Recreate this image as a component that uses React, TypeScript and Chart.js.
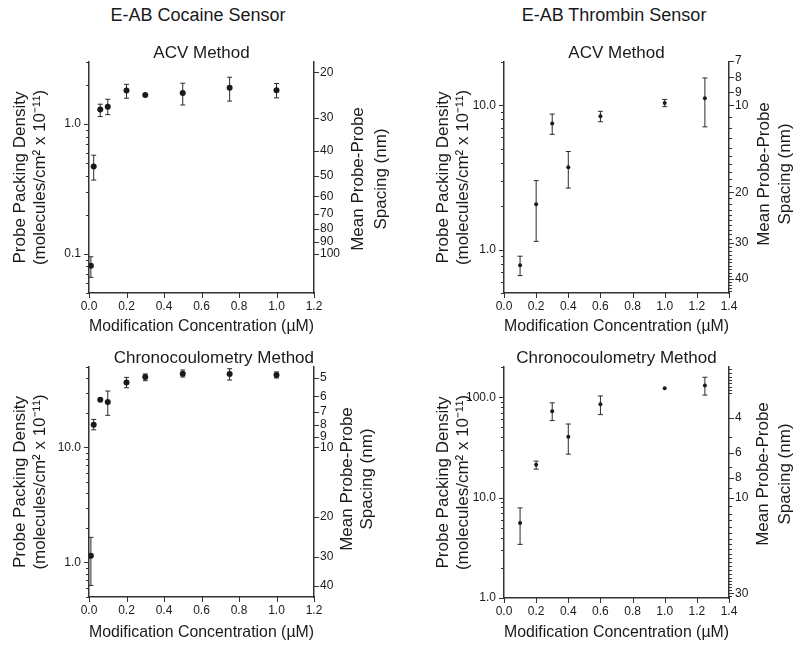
import React, { useEffect, useRef } from "react";
import { Chart, registerables } from "chart.js";
Chart.register(...registerables);

const FONT = "'Liberation Sans', Arial, Helvetica, sans-serif";
const INK = "#1a1a1a";
const AXIS = "#333333";
// mean probe-probe spacing (nm) = sqrt(1000 / density[10^11 molecules/cm²])
const SPACING_K = Math.sqrt(1000);

// ---------- E-AB cocaine sensor ----------
const cocaineConc = [0.01, 0.025, 0.06, 0.1, 0.2, 0.3, 0.5, 0.75, 1.0];
const cocaineAcvDensity = [0.081, 0.47, 1.29, 1.36, 1.81, 1.67, 1.73, 1.9, 1.82];
const cocaineAcvHigh = [0.095, 0.575, 1.42, 1.55, 2.02, null, 2.06, 2.29, 2.05];
const cocaineAcvLow = [0.066, 0.37, 1.14, 1.18, 1.58, null, 1.4, 1.5, 1.59];
const cocaineCcDensity = [1.14, 15.7, 26.0, 24.8, 36.7, 40.9, 43.7, 43.5, 42.6];
const cocaineCcHigh = [1.65, 17.5, null, 30.9, 40.6, 43.5, 47.1, 48.3, 45.3];
const cocaineCcLow = [0.63, 14.2, null, 19.0, 33.0, 38.0, 40.9, 38.5, 40.1];

// ---------- E-AB thrombin sensor ----------
const thrombinConc = [0.1, 0.2, 0.3, 0.4, 0.6, 1.0, 1.25];
const thrombinAcvDensity = [0.78, 2.06, 7.5, 3.73, 8.4, 10.4, 11.2];
const thrombinAcvHigh = [0.9, 3.01, 8.7, 4.79, 9.1, 11.0, 15.5];
const thrombinAcvLow = [0.66, 1.14, 6.3, 2.67, 7.7, 9.8, 7.1];
const thrombinCcDensity = [5.6, 21.2, 72.4, 40.5, 85.1, 123, 131];
const thrombinCcHigh = [7.9, 23.1, 87.9, 54.1, 103, null, 158];
const thrombinCcLow = [3.42, 19.2, 58.5, 27.1, 67.1, null, 105];

// ---------- tick labels ----------
const cocaineXTicks = [0, 0.2, 0.4, 0.6, 0.8, 1.0, 1.2];
const thrombinXTicks = [0, 0.2, 0.4, 0.6, 0.8, 1.0, 1.2, 1.4];
const cocaineAcvDensityTicks = [0.1, 1];
const cocaineCcDensityTicks = [1, 10];
const thrombinAcvDensityTicks = [1, 10];
const thrombinCcDensityTicks = [1, 10, 100];
const cocaineAcvSpacingTicks = [20, 30, 40, 50, 60, 70, 80, 90, 100];
const cocaineAcvSpacingMinor: number[] = [];
const cocaineCcSpacingTicks = [5, 6, 7, 8, 9, 10, 20, 30, 40];
const cocaineCcSpacingMinor: number[] = [];
const thrombinAcvSpacingTicks = [7, 8, 9, 10, 20, 30, 40];
const thrombinAcvSpacingMinor = [11, 12, 13, 14, 15, 16, 17, 18, 19, 21, 22, 23, 24, 25, 26, 27, 28, 29, 31, 32, 33, 34, 35, 36, 37, 38, 39, 41, 42, 43, 44];
const thrombinCcSpacingTicks = [4, 6, 8, 10, 30];
const thrombinCcSpacingMinor = [2.3, 2.4, 2.5, 2.6, 2.7, 2.8, 2.9, 3, 5, 7, 9, 11, 12, 13, 14, 15, 16, 17, 18, 19, 20, 21, 22, 23, 24, 25, 26, 27, 28, 29, 31];

function minorLogTicks(min: number, max: number): number[] {
  const out: number[] = [];
  for (let k = Math.floor(Math.log10(min)); k <= Math.ceil(Math.log10(max)); k++) {
    for (let m = 2; m <= 9; m++) {
      const v = Number((m * Math.pow(10, k)).toPrecision(6));
      if (v >= min * 0.999 && v <= max * 1.001) out.push(v);
    }
  }
  return out;
}

type PanelProps = {
  title: string;
  titleAlign: "center" | "end";
  x: number[];
  y: number[];
  hi: (number | null)[];
  lo: (number | null)[];
  xMax: number;
  xTicks: number[];
  yMin: number;
  yMax: number;
  densityTicks: number[];
  spacingTicks: number[];
  spacingMinor: number[];
  radius: number;
  left: number;
  top: number;
  w: number;
  h: number;
  leftW: number;
  rightW: number;
  xAxisH: number;
  leftTitlePad: number;
  rightTitleX: [number, number];
  rightTitleY: number;
};

function Panel(p: PanelProps) {
  const ref = useRef<HTMLCanvasElement>(null);
  useEffect(() => {
    const majorSet = new Set(p.densityTicks);
    const leftTicks = [...p.densityTicks, ...minorLogTicks(p.yMin, p.yMax)].sort((a, b) => a - b);
    const labeledSpacing = new Set(p.spacingTicks);
    const rightTicks = [...p.spacingTicks, ...p.spacingMinor]
      .map((s) => ({ value: (SPACING_K / s) ** 2, s, lab: labeledSpacing.has(s) }))
      .sort((a, b) => a.value - b.value);

    const decor = {
      id: "decor",
      beforeDatasetsDraw(chart: any) {
        const ctx = chart.ctx;
        const xs = chart.scales.x;
        const ys = chart.scales.y;
        ctx.save();
        ctx.strokeStyle = "#2a2a2a";
        ctx.lineWidth = 1;
        p.x.forEach((xv, i) => {
          const h = p.hi[i];
          const l = p.lo[i];
          if (h == null || l == null) return;
          const px = xs.getPixelForValue(xv);
          const y1 = ys.getPixelForValue(h);
          const y2 = ys.getPixelForValue(l);
          ctx.beginPath();
          ctx.moveTo(px, y1);
          ctx.lineTo(px, y2);
          ctx.moveTo(px - 2.5, y1);
          ctx.lineTo(px + 2.5, y1);
          ctx.moveTo(px - 2.5, y2);
          ctx.lineTo(px + 2.5, y2);
          ctx.stroke();
        });
        ctx.restore();
      },
      afterDraw(chart: any) {
        const ctx = chart.ctx;
        const area = chart.chartArea;
        const xs = chart.scales.x;
        const ys = chart.scales.y;
        const ys2 = chart.scales.y2;
        ctx.save();
        ctx.strokeStyle = AXIS;
        ctx.lineWidth = 1;
        ctx.beginPath();
        xs.ticks.forEach((t: any) => {
          const px = Math.round(xs.getPixelForValue(t.value)) + 0.5;
          ctx.moveTo(px, area.bottom);
          ctx.lineTo(px, area.bottom + 5);
        });
        ys.ticks.forEach((t: any) => {
          const py = Math.round(ys.getPixelForValue(t.value)) + 0.5;
          if (py < area.top - 3 || py > area.bottom + 1) return;
          const len = t.label ? 5 : 3;
          ctx.moveTo(area.left, py);
          ctx.lineTo(area.left - len, py);
        });
        ys2.ticks.forEach((t: any) => {
          const py = Math.round(ys2.getPixelForValue(t.value)) + 0.5;
          if (py < area.top - 3 || py > area.bottom + 1) return;
          const len = t.label ? 5 : 3;
          ctx.moveTo(area.right, py);
          ctx.lineTo(area.right + len, py);
        });
        ctx.stroke();
        // right axis title (reads bottom to top)
        ctx.fillStyle = INK;
        ctx.font = `17px ${FONT}`;
        ctx.textAlign = "center";
        ctx.textBaseline = "middle";
        const lines = ["Mean Probe-Probe", "Spacing (nm)"];
        lines.forEach((txt, i) => {
          ctx.save();
          ctx.translate(area.right + p.rightTitleX[i], p.rightTitleY);
          ctx.rotate(-Math.PI / 2);
          ctx.fillText(txt, 0, 0);
          ctx.restore();
        });
        ctx.restore();
      },
    };

    const tickFont = { family: FONT, size: 12 };
    const chart = new Chart(ref.current as HTMLCanvasElement, {
      type: "scatter",
      data: {
        datasets: [
          {
            data: p.x.map((xv, i) => ({ x: xv, y: p.y[i] })),
            pointRadius: p.radius,
            pointBackgroundColor: INK,
            pointBorderWidth: 0,
            showLine: false,
          },
        ],
      },
      options: {
        responsive: false,
        animation: false,
        events: [],
        layout: { padding: 0 },
        plugins: {
          legend: { display: false },
          tooltip: { enabled: false },
          title: {
            display: true,
            text: p.title,
            fullSize: false,
            align: p.titleAlign,
            color: INK,
            font: { family: FONT, size: 17, weight: "normal", lineHeight: 1 },
            padding: { top: 9.5, bottom: 0.5 },
          },
        },
        scales: {
          x: {
            type: "linear",
            min: 0,
            max: p.xMax,
            grid: { display: false, drawTicks: false },
            border: { display: true, color: AXIS, width: 1.5 },
            afterBuildTicks: (s: any) => {
              s.ticks = p.xTicks.map((v) => ({ value: v }));
            },
            afterFit: (s: any) => {
              s.height = p.xAxisH;
            },
            ticks: {
              autoSkip: false,
              maxRotation: 0,
              padding: 6,
              color: INK,
              font: tickFont,
              callback: (v: any) => Number(v).toFixed(1),
            },
            title: {
              display: true,
              text: "Modification Concentration (µM)",
              color: INK,
              font: { family: FONT, size: 17 },
              padding: { top: 0, bottom: 0 },
            },
          },
          y: {
            type: "logarithmic",
            position: "left",
            min: p.yMin,
            max: p.yMax,
            grid: { display: false, drawTicks: false },
            border: { display: true, color: AXIS, width: 1.5 },
            afterBuildTicks: (s: any) => {
              s.ticks = leftTicks.map((v) => ({ value: v }));
            },
            afterFit: (s: any) => {
              s.width = p.leftW;
            },
            ticks: {
              autoSkip: false,
              padding: 8,
              color: INK,
              font: tickFont,
              callback: (v: any) => (majorSet.has(v) ? Number(v).toFixed(1) : ""),
            },
            title: {
              display: true,
              text: ["Probe Packing Density", "(molecules/cm² x 10⁻¹¹)"],
              color: INK,
              font: { family: FONT, size: 17, lineHeight: 1.2 },
              padding: { top: p.leftTitlePad, bottom: 0 },
            },
          },
          y2: {
            type: "logarithmic",
            position: "right",
            min: p.yMin,
            max: p.yMax,
            grid: { display: false, drawTicks: false },
            border: { display: true, color: AXIS, width: 1.5 },
            afterBuildTicks: (s: any) => {
              s.ticks = rightTicks.map((t) => ({ ...t }));
            },
            afterFit: (s: any) => {
              s.width = p.rightW;
            },
            ticks: {
              autoSkip: false,
              padding: 6,
              color: INK,
              font: tickFont,
              callback: (_v: any, i: number, ticks: any[]) => (ticks[i].lab ? String(ticks[i].s) : ""),
            },
          },
        },
      } as any,
      plugins: [decor],
    });
    return () => chart.destroy();
  }, []);
  return (
    <canvas
      ref={ref}
      width={p.w}
      height={p.h}
      style={{ position: "absolute", left: p.left, top: p.top, width: p.w, height: p.h }}
    />
  );
}

const headerStyle: React.CSSProperties = {
  position: "absolute",
  top: 5,
  width: 240,
  textAlign: "center",
  fontFamily: FONT,
  fontSize: 18,
  lineHeight: "20px",
  color: INK,
  whiteSpace: "nowrap",
};

export default function App() {
  return (
    <div style={{ position: "absolute", left: 0, top: 0, width: 800, height: 650, background: "#fff", overflow: "hidden" }}>
      <div style={{ ...headerStyle, left: 198 - 120 }}>E-AB Cocaine Sensor</div>
      <div style={{ ...headerStyle, left: 614 - 120 }}>E-AB Thrombin Sensor</div>
      <Panel
        title="ACV Method"
        titleAlign="center"
        x={cocaineConc}
        y={cocaineAcvDensity}
        hi={cocaineAcvHigh}
        lo={cocaineAcvLow}
        xMax={1.2}
        xTicks={cocaineXTicks}
        yMin={0.05}
        yMax={3}
        densityTicks={cocaineAcvDensityTicks}
        spacingTicks={cocaineAcvSpacingTicks}
        spacingMinor={cocaineAcvSpacingMinor}
        radius={3}
        left={0}
        top={35}
        w={400}
        h={302}
        leftW={89}
        rightW={86}
        xAxisH={44}
        leftTitlePad={10}
        rightTitleX={[44, 67]}
        rightTitleY={179 - 35}
      />
      <Panel
        title="ACV Method"
        titleAlign="center"
        x={thrombinConc}
        y={thrombinAcvDensity}
        hi={thrombinAcvHigh}
        lo={thrombinAcvLow}
        xMax={1.4}
        xTicks={thrombinXTicks}
        yMin={0.5}
        yMax={20}
        densityTicks={thrombinAcvDensityTicks}
        spacingTicks={thrombinAcvSpacingTicks}
        spacingMinor={thrombinAcvSpacingMinor}
        radius={2}
        left={400}
        top={35}
        w={400}
        h={302}
        leftW={104}
        rightW={71}
        xAxisH={44}
        leftTitlePad={33}
        rightTitleX={[35, 56]}
        rightTitleY={174 - 35}
      />
      <Panel
        title="Chronocoulometry Method"
        titleAlign="end"
        x={cocaineConc}
        y={cocaineCcDensity}
        hi={cocaineCcHigh}
        lo={cocaineCcLow}
        xMax={1.2}
        xTicks={cocaineXTicks}
        yMin={0.5}
        yMax={50}
        densityTicks={cocaineCcDensityTicks}
        spacingTicks={cocaineCcSpacingTicks}
        spacingMinor={cocaineCcSpacingMinor}
        radius={3}
        left={0}
        top={340}
        w={400}
        h={303}
        leftW={89}
        rightW={86}
        xAxisH={46}
        leftTitlePad={10}
        rightTitleX={[33, 53]}
        rightTitleY={479 - 340}
      />
      <Panel
        title="Chronocoulometry Method"
        titleAlign="center"
        x={thrombinConc}
        y={thrombinCcDensity}
        hi={thrombinCcHigh}
        lo={thrombinCcLow}
        xMax={1.4}
        xTicks={thrombinXTicks}
        yMin={1}
        yMax={200}
        densityTicks={thrombinCcDensityTicks}
        spacingTicks={thrombinCcSpacingTicks}
        spacingMinor={thrombinCcSpacingMinor}
        radius={2}
        left={400}
        top={340}
        w={400}
        h={303}
        leftW={104}
        rightW={71}
        xAxisH={45}
        leftTitlePad={33}
        rightTitleX={[34, 56]}
        rightTitleY={474 - 340}
      />
    </div>
  );
}
